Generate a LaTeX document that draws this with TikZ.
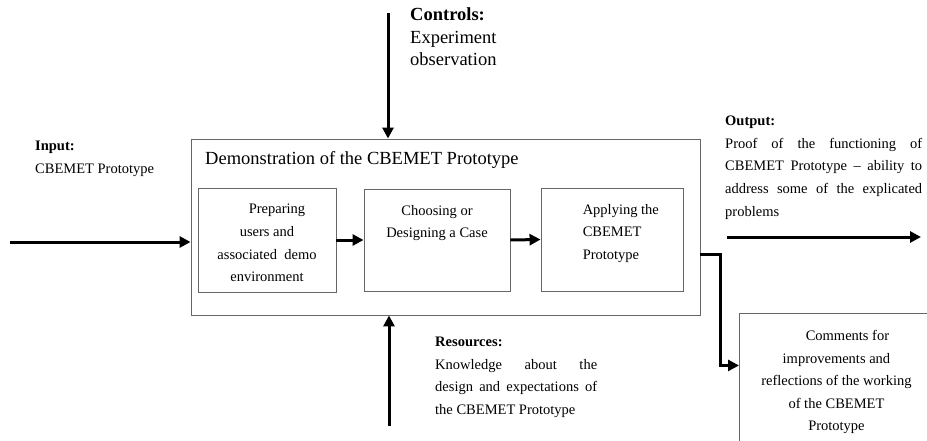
\documentclass[tikz,border=0pt]{standalone}
\usepackage{fontspec}
\setmainfont{Liberation Serif}
\usetikzlibrary{arrows.meta,positioning,calc}
\colorlet{boxgray}{black!60}
\tikzset{
  stage/.style={draw=boxgray, line width=0.9pt, inner sep=0pt},
  flow/.style={line width=3pt, ->, >={Triangle[length=11pt,width=11pt]}},
  body/.style={font=\fontsize{14.5}{22.6}\selectfont, inner sep=0pt},
}

\begin{document}
\begin{tikzpicture}[x=1pt,y=-1pt]
\useasboundingbox (0,0) rectangle (927,441);
% frame and the three steps
\node[stage, minimum width=509pt, minimum height=176pt] (demo) at (445.5,227) {};
\node[anchor=base west, inner sep=0pt, font=\fontsize{18.5}{22}\selectfont] (title) at (205,165) {Demonstration of the CBEMET Prototype};
\node[stage, minimum width=138pt, minimum height=104pt] (prep) at (267,240) {};
\node[stage, minimum width=146pt, minimum height=102pt] (choose) at (437,240) {};
\node[stage, minimum width=142pt, minimum height=103pt] (apply) at (612,239.5) {};
\node[body, anchor=north, align=center] (preptxt) at ([yshift=-16.5pt]prep.north) {\hspace*{20pt}Preparing\\users and\\associated\ \ demo\\environment};
\node[body, anchor=north, align=center] (choosetxt) at ([yshift=-16.5pt]choose.north) {Choosing or\\Designing a Case};
\node[body, anchor=north west, align=left] (applytxt) at ([xshift=42pt,yshift=-16.5pt]apply.north west) {Applying the\\CBEMET\\Prototype};
\node[stage, minimum width=200pt, minimum height=140pt, anchor=north west] (comments) at (739,313) {};
\node[body, anchor=north, align=center] (commentstxt) at ([xshift=-3pt,yshift=-17pt]comments.north) {\hspace*{22pt}Comments for\\improvements and\\reflections of the working\\of the CBEMET\\Prototype};

% labels
\node[body, anchor=north west, align=left] (input) at (35,141) {\textbf{Input:}\\CBEMET Prototype};
\node[anchor=north west, align=left, inner sep=0pt, font=\fontsize{18.5}{22.5}\selectfont] (controls) at (410,7.5) {\textbf{Controls:}\\Experiment\\observation};
\node[body, anchor=north west, text width=197pt, align=justify] (output) at (725,116) {\textbf{Output:}\\Proof of the functioning of\linebreak CBEMET Prototype – ability to\linebreak address some of the explicated\linebreak problems};
\node[body, anchor=north west, text width=162pt, align=justify] (resources) at (435,337) {\textbf{Resources:}\\Knowledge about the\linebreak design and expectations of\linebreak the CBEMET Prototype};

% arrows
\coordinate (inputstart) at (10,242);
\coordinate (ctlstart) at (388,13);
\coordinate (resstart) at (389,426);
\coordinate (outstart) at (727,237);
\coordinate (outend) at (921,237);
\coordinate (bend) at (720,254);
\draw[flow] (inputstart) -- (inputstart -| demo.west);
\draw[flow] (ctlstart) -- (ctlstart |- demo.north);
\draw[flow] (resstart) -- (resstart |- demo.south);
\draw[flow] (prep.east) -- (choose.west);
\draw[flow] (choose.east) -- (apply.west);
\draw[flow] (outstart) -- (outend);
\draw[flow] (bend -| demo.east) -- (bend) |- ([yshift=18pt]comments.west);
\end{tikzpicture}
\end{document}
